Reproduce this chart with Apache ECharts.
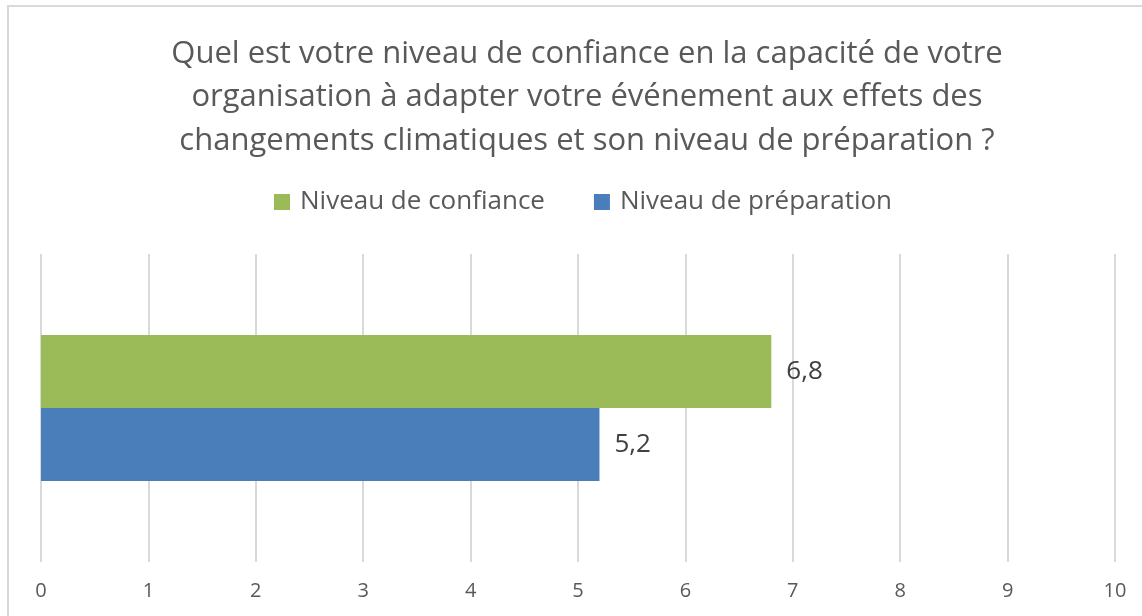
<!DOCTYPE html>
<html lang="fr">

<head>
    <meta charset="UTF-8" />
    <title>Niveau de confiance</title>
    <script src="https://cdn.jsdelivr.net/npm/echarts@6.0.0/dist/echarts.min.js"></script>
    <style>
        html, body { margin: 0; padding: 0; background: #fff; }
    </style>
</head>

<body>
    <div id="main" style="width: 1142px; height: 616px;"></div>

    <script>
        const titleText = "Quel est votre niveau de confiance en la capacité de votre\norganisation à adapter votre événement aux effets des\nchangements climatiques et son niveau de préparation ?";
        const categories = [''];
        const seriesNames = ['Niveau de confiance', 'Niveau de préparation'];
        const confiance = [6.8];
        const preparation = [5.2];
        const colors = ['#9bbb59', '#4a7ebb'];

        const font = '"Open Sans", sans-serif';
        const myChart = echarts.init(document.getElementById("main"));

        const labelStyle = {
            show: true,
            position: 'right',
            distance: 15,
            color: '#404040',
            fontSize: 26,
            fontFamily: font,
            formatter: p => String(p.value).replace('.', ',')
        };

        const options = {
            animation: false,
            textStyle: { fontFamily: font },
            graphic: [{
                type: 'rect',
                shape: { x: 8, y: 6, width: 1300, height: 800 },
                style: { fill: 'none', stroke: '#d9d9d9', lineWidth: 2 },
                silent: true
            }],
            title: {
                text: titleText,
                left: 582,
                top: 27,
                textAlign: 'center',
                textStyle: {
                    color: '#595959',
                    fontSize: 31,
                    fontWeight: 'normal',
                    lineHeight: 43.5,
                    fontFamily: font
                }
            },
            legend: {
                top: 184,
                left: 269,
                itemWidth: 16,
                itemHeight: 16,
                itemGap: 49,
                icon: 'rect',
                textStyle: { color: '#595959', fontSize: 26, fontFamily: font, padding: [0, 0, 0, 5] },
                data: seriesNames
            },
            grid: { left: 41, right: 27, top: 254, bottom: 54, containLabel: false },
            xAxis: {
                type: 'value',
                min: 0,
                max: 10,
                interval: 1,
                axisLine: { show: false },
                axisTick: { show: false },
                splitLine: { lineStyle: { color: '#d9d9d9', width: 2 } },
                axisLabel: { color: '#595959', fontSize: 20, margin: 19, fontFamily: font }
            },
            yAxis: {
                type: 'category',
                data: categories,
                inverse: true,
                axisLine: { show: false },
                axisTick: { show: false },
                axisLabel: { show: false }
            },
            series: [{
                name: seriesNames[0],
                type: 'bar',
                data: confiance,
                barWidth: 73,
                barGap: '0%',
                itemStyle: { color: colors[0] },
                label: labelStyle
            }, {
                name: seriesNames[1],
                type: 'bar',
                data: preparation,
                barWidth: 73,
                barGap: '0%',
                itemStyle: { color: colors[1] },
                label: labelStyle
            }]
        };

        myChart.setOption(options);
    </script>
</body>

</html>
